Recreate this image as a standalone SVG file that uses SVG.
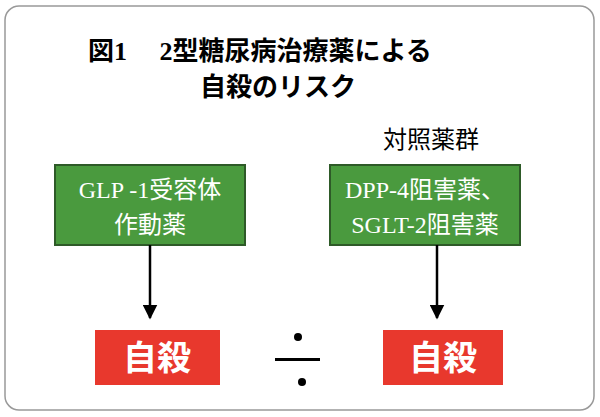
<svg xmlns="http://www.w3.org/2000/svg" width="600" height="417" viewBox="0 0 600 417">
<defs>
<style>
.t{font-family:"Liberation Serif","Noto Sans CJK JP",serif;font-weight:bold;fill:#000}
.n{font-family:"Liberation Serif","Noto Sans CJK JP",serif;fill:#000}
.g{fill:#4a9a3e;stroke:#2e5a28;stroke-width:2}
.gt{font-family:"Liberation Serif","Noto Sans CJK JP",serif;font-size:24px;fill:#fff;text-anchor:middle}
.r{fill:#e8382d}
.rt{font-family:"Noto Sans CJK JP",sans-serif;font-weight:bold;font-size:34px;fill:#fff;text-anchor:middle}
</style>
<marker id="a" viewBox="0 0 10 10" refX="9" refY="5" markerWidth="6" markerHeight="6" orient="auto"><path d="M0,0L10,5L0,10z" fill="#000"/></marker>
</defs>
<rect x="0" y="0" width="600" height="417" fill="#fff"/>
<rect x="5" y="6" width="589" height="404" rx="14" fill="#fff" stroke="#999" stroke-width="1.5"/>
<g id="title">
<text class="t" x="88" y="60" font-size="26">図1　 2型糖尿病治療薬による</text>
<text class="t" x="200" y="96" font-size="26">自殺のリスク</text>
<text class="n" x="383" y="148" font-size="24">対照薬群</text>
</g>
<g id="glp"><rect class="g" x="55" y="165" width="190" height="80"/><text class="gt" x="150" y="198">GLP -1受容体</text><text class="gt" x="150" y="233">作動薬</text></g>
<g id="dpp"><rect class="g" x="330" y="165" width="190" height="80"/><text class="gt" x="425" y="198">DPP-4阻害薬、</text><text class="gt" x="425" y="233">SGLT-2阻害薬</text></g>
<g id="r1"><rect class="r" x="95" y="330" width="125" height="55"/><text class="rt" x="157" y="370">自殺</text></g>
<g id="r2"><rect class="r" x="383" y="330" width="120" height="55"/><text class="rt" x="443" y="370">自殺</text></g>
<g id="approx"><circle cx="298" cy="337" r="4"/><rect x="275" y="358" width="45" height="3"/><circle cx="302" cy="382" r="4"/></g>
<g id="connectors" stroke="#000" stroke-width="2.5">
<line x1="150" y1="245" x2="150" y2="318" marker-end="url(#a)"/>
<line x1="437" y1="245" x2="437" y2="318" marker-end="url(#a)"/>
</g>
</svg>
